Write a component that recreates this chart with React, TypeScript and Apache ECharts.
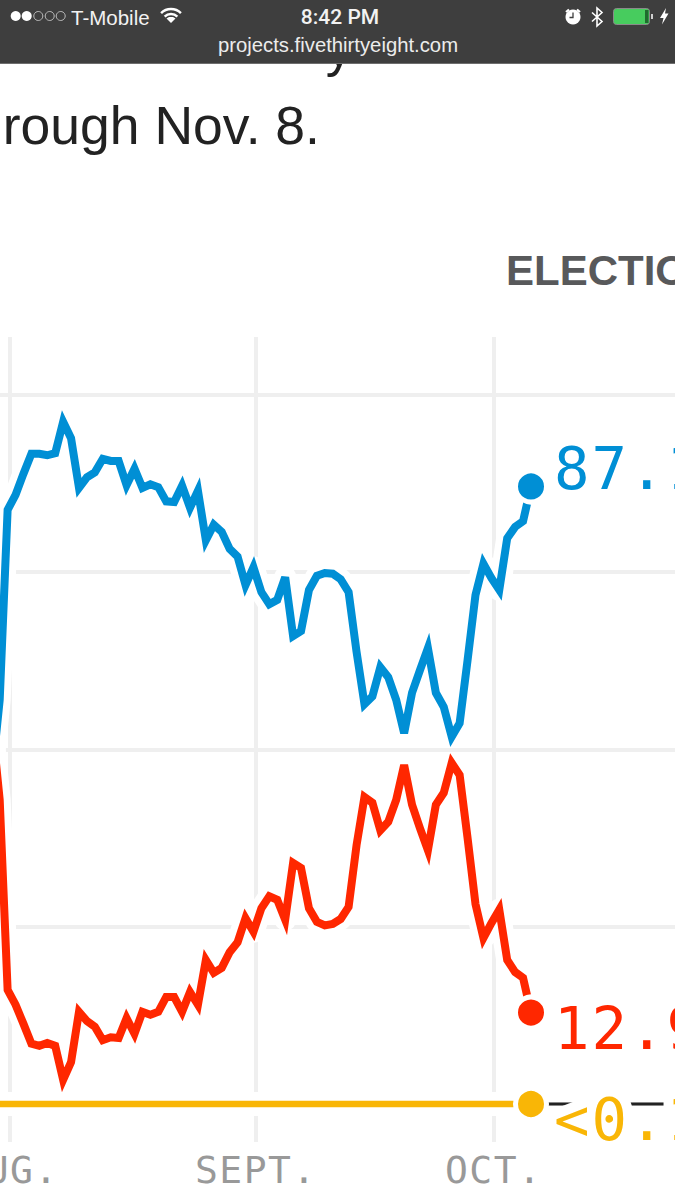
import React, { useEffect, useRef } from "react";
import * as echarts from "echarts";

// Win probability (%) per day; the first two values are off the left edge of the picture.
const clinton = [
  46.0, 57.0, 83.8, 85.9, 88.9, 91.7, 91.7, 91.5, 91.8, 96.2, 93.9, 86.9, 88.4, 89.1, 91.0, 90.7, 90.7,
  87.3, 89.6, 86.9, 87.4, 87.0, 85.0, 84.9, 87.2, 84.1, 86.5, 79.5, 81.7, 80.7, 78.3, 77.2, 73.2, 75.7,
  72.2, 70.5, 71.1, 74.3, 66.0, 66.7, 72.5, 74.5, 74.9, 74.8, 74.0, 72.2, 63.8, 56.4, 57.5, 61.6, 60.2,
  57.0, 52.3, 58.0, 61.2, 64.3, 58.0, 56.0, 51.8, 53.7, 62.6, 71.8, 76.2, 74.2, 72.5, 79.8, 81.4, 82.2, 87.1,
];
const trump = [
  54.0, 42.9, 16.1, 14.0, 11.3, 8.5, 8.2, 8.6, 8.2, 3.4, 5.9, 13.0, 11.7, 10.9, 9.0, 9.4, 9.3,
  12.1, 9.9, 13.0, 12.6, 13.0, 15.1, 15.1, 13.0, 15.8, 14.0, 20.3, 18.5, 19.2, 21.4, 22.8, 26.2, 24.3,
  27.6, 29.3, 28.8, 26.0, 34.0, 33.3, 27.6, 25.7, 25.2, 25.4, 26.1, 27.8, 36.5, 43.3, 42.5, 38.6, 39.8,
  42.9, 47.8, 42.2, 38.9, 35.8, 42.2, 43.9, 48.1, 46.4, 37.5, 28.2, 23.4, 25.5, 27.4, 20.3, 18.6, 17.8, 12.9,
];
const mcmullin = [
  0, 0, 0, 0, 0, 0, 0, 0, 0, 0, 0, 0, 0, 0, 0, 0, 0,
  0, 0, 0, 0, 0, 0, 0, 0, 0, 0, 0, 0, 0, 0, 0, 0, 0,
  0, 0, 0, 0, 0, 0, 0, 0, 0, 0, 0, 0, 0, 0, 0, 0, 0,
  0, 0, 0, 0, 0, 0, 0, 0, 0, 0, 0, 0, 0, 0, 0, 0, 0, 0,
];
const monthTicks = [0, 31, 61];
const monthLabels = ["AUG.", "SEPT.", "OCT."];
const percentTicks = [0, 25, 50, 75, 100];
const endLabels = ["87.1", "12.9", "<0.1"];

const BLUE = "#008FD5";
const RED = "#FF2700";
const YELLOW = "#F9B606";
const GRID = "#EFEFEF";
const MONO = "'DejaVu Sans Mono', monospace";
const SANS = "'Liberation Sans', Arial, sans-serif";

const toPoints = (values: number[]) => values.map((v, i) => [i - 2.3, v]);

const lineSeries = (values: number[], color: string, width: number) => ({
  type: "line",
  data: toPoints(values),
  symbol: "none",
  z: 3,
  silent: true,
  lineStyle: { color, width, join: "miter", miterLimit: 4, cap: "butt" },
});
const haloSeries = (values: number[], width: number) => ({
  type: "line",
  data: toPoints(values),
  symbol: "none",
  z: 2,
  silent: true,
  lineStyle: { color: "#fff", width, join: "round", cap: "butt" },
});
const endDot = (values: number[], color: string, text: string, dy: number) => ({
  type: "scatter",
  data: [toPoints(values)[values.length - 1]],
  symbol: "circle",
  symbolSize: 31,
  z: 4,
  silent: true,
  itemStyle: { color, borderColor: "#fff", borderWidth: 5, opacity: 1 },
  label: {
    show: true,
    position: "right",
    distance: 5,
    offset: [0, dy],
    formatter: () => text,
    color,
    fontFamily: MONO,
    fontSize: 59,
    textBorderColor: "#fff",
    textBorderWidth: 20,
  },
});

const statusText = (text: string, x: number, y: number, size: number, family: string, weight: any, align = "left", fill = "#f2f2f2") => ({
  type: "text",
  x,
  y,
  z: 20,
  silent: true,
  style: { text, fill, font: `${weight} ${size}px ${family}`, align, verticalAlign: "middle" },
});

const statusGraphics = () => {
  const els: any[] = [];
  els.push({ type: "text", x: 339, y: 47, z: 5, silent: true, style: { text: "y", fill: "#222", font: `400 53px ${SANS}`, align: "center", verticalAlign: "middle" } });
  els.push({ type: "rect", z: 10, silent: true, shape: { x: 0, y: 0, width: 675, height: 64 }, style: { fill: "#3E3E3E" } });
  els.push({ type: "rect", z: 11, silent: true, shape: { x: 0, y: 63, width: 675, height: 1 }, style: { fill: "#6E6E6E" } });
  [15.7, 26.7].forEach((cx) => els.push({ type: "circle", z: 20, silent: true, shape: { cx, cy: 16, r: 5 }, style: { fill: "#fff" } }));
  [38.3, 49.7, 60.7].forEach((cx) =>
    els.push({ type: "circle", z: 20, silent: true, shape: { cx, cy: 16, r: 4.5 }, style: { fill: "none", stroke: "#bdbdbd", lineWidth: 1 } })
  );
  els.push(statusText("T-Mobile", 71, 17, 20.5, SANS, 400));
  const wifi = { cx: 171, cy: 23 };
  [14, 9].forEach((r) =>
    els.push({
      type: "arc",
      z: 20,
      silent: true,
      shape: { ...wifi, r, startAngle: (-135 * Math.PI) / 180, endAngle: (-45 * Math.PI) / 180 },
      style: { stroke: "#fff", lineWidth: 2.5, fill: "none" },
    })
  );
  els.push({ type: "polygon", z: 20, silent: true, shape: { points: [[171, 23], [166.5, 18.5], [169, 17], [173, 17], [175.5, 18.5]] }, style: { fill: "#fff" } });
  els.push(statusText("8:42 PM", 340, 17, 21, "Roboto, sans-serif", 500, "center"));
  els.push(statusText("projects.fivethirtyeight.com", 338, 45, 20.3, SANS, 400, "center", "#ececec"));
  // alarm clock
  els.push({ type: "circle", z: 20, silent: true, shape: { cx: 573, cy: 17, r: 7.5 }, style: { fill: "#fff" } });
  els.push({ type: "polyline", z: 21, silent: true, shape: { points: [[573, 12.5], [573, 17.5], [569.5, 17.5]] }, style: { stroke: "#3E3E3E", lineWidth: 1.3, fill: "none" } });
  els.push({ type: "line", z: 20, silent: true, shape: { x1: 566, y1: 12, x2: 569, y2: 9.5 }, style: { stroke: "#fff", lineWidth: 2.2 } });
  els.push({ type: "line", z: 20, silent: true, shape: { x1: 577, y1: 9.5, x2: 580, y2: 12 }, style: { stroke: "#fff", lineWidth: 2.2 } });
  // bluetooth
  els.push({
    type: "polyline",
    z: 20,
    silent: true,
    shape: { points: [[592, 12.5], [602, 21.5], [597, 26], [597, 8], [602, 12.5], [592, 21.5]] },
    style: { stroke: "#fff", lineWidth: 1.6, fill: "none" },
  });
  // battery
  els.push({ type: "rect", z: 20, silent: true, shape: { x: 613.5, y: 8.5, width: 36, height: 16, r: 3 }, style: { fill: "#47CC5E", stroke: "#8a8a8a", lineWidth: 1 } });
  els.push({ type: "rect", z: 21, silent: true, shape: { x: 645, y: 10, width: 3.5, height: 13 }, style: { fill: "#1F6B2E" } });
  els.push({ type: "rect", z: 20, silent: true, shape: { x: 651, y: 14, width: 2, height: 5 }, style: { fill: "#cfcfcf" } });
  // bolt
  els.push({ type: "polygon", z: 20, silent: true, shape: { points: [[666, 8], [660, 18], [663.5, 18], [662, 24.5], [668.5, 13.5], [665, 13.5]] }, style: { fill: "#fff" } });
  // page texts
  els.push({ type: "text", x: 320, y: 125, z: 5, silent: true, style: { text: "through Nov. 8.", fill: "#222222", font: `400 53.5px ${SANS}`, align: "right", verticalAlign: "middle" } });
  els.push({ type: "text", x: 506, y: 270, z: 5, silent: true, style: { text: "ELECTION DAY", fill: "#58595B", font: `700 42px ${SANS}`, align: "left", verticalAlign: "middle" } });
  return els;
};

export default function App() {
  const ref = useRef<HTMLDivElement>(null);
  useEffect(() => {
    document.body.style.margin = "0";
    const chart = echarts.init(ref.current!, undefined, { renderer: "svg" });
    chart.setOption({
      animation: false,
      backgroundColor: "#fff",
      grid: { left: -37.58, right: -40.77, top: 337, bottom: 58, containLabel: false, outerBoundsMode: "none" },
      xAxis: {
        type: "value",
        min: -6,
        max: 89,
        axisLine: { show: false },
        axisTick: { show: false, customValues: monthTicks },
        axisLabel: {
          show: true,
          customValues: monthTicks,
          formatter: (v: number) => monthLabels[monthTicks.indexOf(v)] ?? "",
          color: "#999999",
          fontFamily: MONO,
          fontSize: 38,
          margin: 9,
          hideOverlap: false,
        },
        splitLine: { show: true, lineStyle: { color: GRID, width: 4 } },
      },
      yAxis: {
        type: "value",
        min: -5.36,
        max: 108.18,
        axisLine: { show: false },
        axisTick: { show: false, customValues: percentTicks },
        axisLabel: { show: false },
        splitLine: { show: true, lineStyle: { color: GRID, width: 4 } },
      },
      graphic: { elements: statusGraphics() },
      series: [
        {
          type: "line",
          data: [[-6, 0], [89, 0]],
          symbol: "none",
          z: 1,
          silent: true,
          lineStyle: { color: "#222222", width: 3 },
        },
        haloSeries(clinton, 22),
        haloSeries(trump, 22),
        haloSeries(mcmullin, 24),
        lineSeries(clinton, BLUE, 8),
        lineSeries(trump, RED, 8),
        lineSeries(mcmullin, YELLOW, 6.5),
        endDot(clinton, BLUE, endLabels[0], -18),
        endDot(trump, RED, endLabels[1], 16),
        endDot(mcmullin, YELLOW, endLabels[2], 16),
      ],
    });
    // The original's labels are widely tracked monospace; the text stays real text.
    ref.current!.querySelectorAll("text").forEach((t) => {
      const el = t as SVGTextElement;
      if (el.style.fontFamily.includes("DejaVu Sans Mono")) {
        el.style.letterSpacing = parseFloat(el.style.fontSize) > 50 ? "2px" : "1.5px";
      }
    });
    return () => chart.dispose();
  }, []);
  return <div ref={ref} style={{ position: "absolute", left: 0, top: 0, width: 675, height: 1200, overflow: "hidden" }} />;
}
